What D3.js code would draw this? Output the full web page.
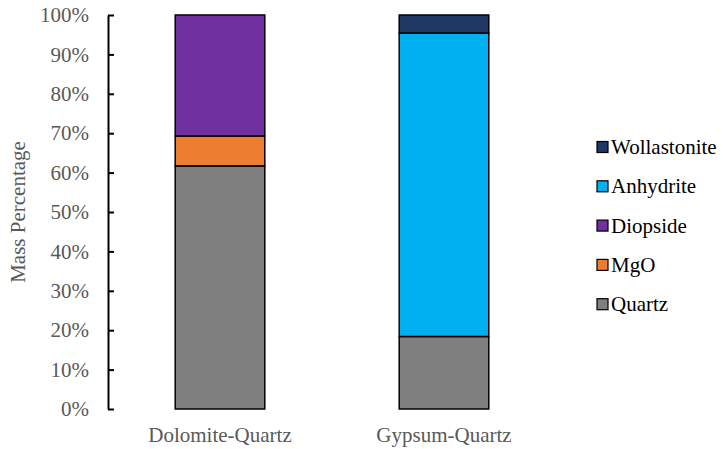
<!DOCTYPE html>
<html>
<head>
<meta charset="utf-8">
<script src="https://cdn.jsdelivr.net/npm/d3@7"></script>
<style>
  body { margin: 0; background: #fff; }
  svg { display: block; }
</style>
</head>
<body>
<svg id="chart" width="723" height="449"></svg>
<script>
// Mineral mass fractions (%) for each sample
const categories = ["Dolomite-Quartz", "Gypsum-Quartz"];
const minerals = ["Quartz", "MgO", "Diopside", "Anhydrite", "Wollastonite"];
const quartz       = [61.7, 18.4];
const mgo          = [7.6, 0];
const diopside     = [30.7, 0];
const anhydrite    = [0, 77.0];
const wollastonite = [0, 4.6];
const yTicks = [0, 10, 20, 30, 40, 50, 60, 70, 80, 90, 100];
const colors = {
  Quartz: "#7f7f7f",
  MgO: "#ed7d31",
  Diopside: "#7030a0",
  Anhydrite: "#00b0f0",
  Wollastonite: "#1f3864"
};
const FONT = "'Liberation Serif', serif";
const FONT_SIZE = "21px";

const seriesValues = { Quartz: quartz, MgO: mgo, Diopside: diopside, Anhydrite: anhydrite, Wollastonite: wollastonite };
const rows = categories.map((c, i) => {
  const r = { category: c };
  minerals.forEach(m => r[m] = seriesValues[m][i]);
  return r;
});

const svg = d3.select("#chart");
const plotLeft = 108, plotRight = 556, plotTop = 15, plotBottom = 409;

const x = d3.scaleBand().domain(categories).range([plotLeft, plotRight]).paddingInner(0.6).paddingOuter(0.3);
const y = d3.scaleLinear().domain([0, 100]).range([plotBottom, plotTop]);

const stacked = d3.stack().keys(minerals)(rows);

svg.append("g")
  .selectAll("g")
  .data(stacked)
  .join("g")
  .attr("fill", d => colors[d.key])
  .selectAll("rect")
  .data(d => d.filter(s => s[1] - s[0] > 0))
  .join("rect")
  .attr("x", d => x(d.data.category))
  .attr("width", x.bandwidth())
  .attr("y", d => y(d[1]))
  .attr("height", d => y(d[0]) - y(d[1]))
  .attr("stroke", "#000")
  .attr("stroke-width", 1.5);

// Y axis with inward ticks
const yAxis = svg.append("g")
  .attr("transform", `translate(${plotLeft},0)`)
  .call(d3.axisLeft(y).tickValues(yTicks).tickFormat(d => d + "%").tickSizeInner(-6).tickSizeOuter(0).tickPadding(19))
  .attr("font-family", FONT)
  .attr("font-size", FONT_SIZE);
yAxis.select(".domain").attr("stroke", "#000").attr("stroke-width", 2);
yAxis.selectAll(".tick line").attr("stroke", "#000").attr("stroke-width", 2);
yAxis.selectAll(".tick text").attr("fill", "#595959");

// Category labels
svg.append("g")
  .attr("font-family", FONT)
  .attr("font-size", FONT_SIZE)
  .selectAll("text")
  .data(categories)
  .join("text")
  .attr("x", d => x(d) + x.bandwidth() / 2)
  .attr("y", 442)
  .attr("text-anchor", "middle")
  .attr("fill", "#595959")
  .text(d => d);

// Y axis title
svg.append("text")
  .attr("transform", `translate(25,${(plotTop + plotBottom) / 2}) rotate(-90)`)
  .attr("text-anchor", "middle")
  .attr("font-family", FONT)
  .attr("font-size", FONT_SIZE)
  .attr("fill", "#595959")
  .text("Mass Percentage");

// Legend, top series first
const legendItems = minerals.slice().reverse();
const lg = svg.append("g")
  .attr("font-family", FONT)
  .attr("font-size", FONT_SIZE)
  .selectAll("g")
  .data(legendItems)
  .join("g")
  .attr("transform", (d, i) => `translate(597,${147 + i * 39.3})`);
lg.append("rect")
  .attr("x", 0).attr("y", -5.5)
  .attr("width", 11).attr("height", 11)
  .attr("fill", d => colors[d])
  .attr("stroke", "#000").attr("stroke-width", 1.2);
lg.append("text")
  .attr("x", 14).attr("y", 7)
  .attr("fill", "#000")
  .text(d => d);
</script>
</body>
</html>
